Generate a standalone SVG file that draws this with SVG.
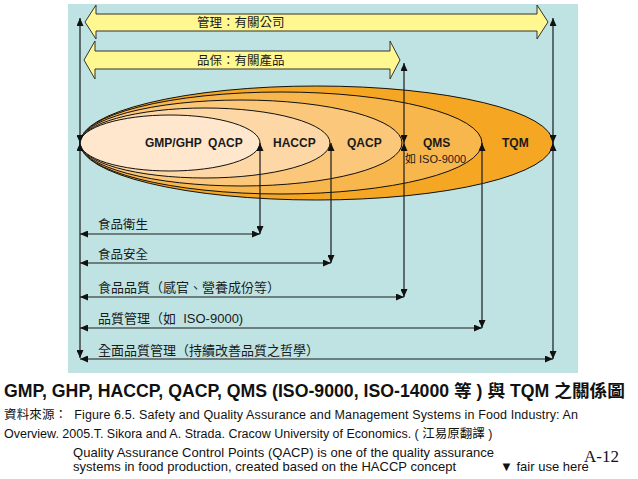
<svg xmlns="http://www.w3.org/2000/svg" width="638" height="479" viewBox="0 0 638 479">
<style>
.cjk{font-family:"Liberation Sans","Noto Sans CJK TC",sans-serif;font-size:12.5px;fill:#1a1a1a;white-space:pre}
.lbl{font-family:"Liberation Sans","Noto Sans CJK TC",sans-serif;font-size:12px;font-weight:bold;fill:#1a1a1a;white-space:pre}
.ell{stroke:#111;stroke-width:1}
.con{stroke:#1a1a1a;stroke-width:1.2;fill:none;marker-start:url(#ah);marker-end:url(#ah)}
.big{fill:#fff78f;stroke:#333;stroke-width:1}
.txt{font-family:"Liberation Sans","Noto Sans CJK TC",sans-serif;fill:#111;white-space:pre}
</style>
<defs>
<marker id="ah" viewBox="0 0 8 7" refX="8" refY="3.5" markerWidth="8" markerHeight="7" markerUnits="userSpaceOnUse" orient="auto-start-reverse">
<path d="M0,0 L8,3.5 L0,7 z" fill="#111"/>
</marker>
</defs>
<rect x="68" y="4" width="510" height="369" fill="#bfe3e3"/>
<g id="arrow-mgmt">
<polygon class="big" points="85,22 96,5 96,14 537,14 537,5 548,22 537,39 537,31 96,31 96,39"/>
<text class="cjk" x="197" y="27">管理：有關公司</text>
</g>
<g id="arrow-qa">
<polygon class="big" points="84,60 95,41 95,51 390,51 390,41 400,60 390,79 390,69 95,69 95,79"/>
<text class="cjk" x="197" y="65">品保：有關產品</text>
</g>
<g id="tqm"><ellipse class="ell" cx="316.5" cy="143" rx="236.5" ry="57" fill="#f5a623"/></g>
<g id="qms"><ellipse class="ell" cx="281" cy="143" rx="201" ry="51" fill="#f8b74c"/></g>
<g id="qacp"><ellipse class="ell" cx="241" cy="143" rx="161" ry="43" fill="#fbc77b"/></g>
<g id="haccp"><ellipse class="ell" cx="205" cy="143" rx="125" ry="35" fill="#fdd8a6"/></g>
<g id="gmp"><ellipse class="ell" cx="170" cy="143" rx="90" ry="28" fill="#fee7cd"/></g>
<g id="labels">
<text class="lbl" x="145" y="147">GMP/GHP  QACP</text>
<text class="lbl" x="273" y="147">HACCP</text>
<text class="lbl" x="347" y="147">QACP</text>
<text class="lbl" x="423" y="147">QMS</text>
<text class="cjk" x="405" y="163" style="font-size:11px">如 ISO-9000</text>
<text class="lbl" x="502" y="147">TQM</text>
</g>
<g id="connectors">
<path class="con" d="M80,18 L80,143"/>
<path class="con" d="M80,143 L80,358"/>
<path class="con" d="M553,18 L553,143"/>
<path class="con" d="M553,143 L553,359"/>
<path class="con" d="M404,63 L404,143"/>
<path class="con" d="M404,143 L404,297"/>
<path class="con" d="M482,143 L482,328"/>
<path class="con" d="M331,143 L331,263"/>
<path class="con" d="M260,143 L260,234"/>
<path class="con" d="M80,234 L260,234"/>
<path class="con" d="M80,263 L331,263"/>
<path class="con" d="M80,297 L404,297"/>
<path class="con" d="M80,328 L482,328"/>
<path class="con" d="M80,359 L553,359"/>
</g>
<g id="scope-labels">
<text class="cjk" x="98" y="229">食品衛生</text>
<text class="cjk" x="98" y="259">食品安全</text>
<text class="cjk" x="98" y="292" style="font-size:13px">食品品質（感官、營養成份等）</text>
<text class="cjk" x="98" y="323" style="font-size:13px">品質管理（如  ISO-9000)</text>
<text class="cjk" x="98" y="355" style="font-size:13px">全面品質管理（持續改善品質之哲學）</text>
</g>
<g id="caption">
<text class="txt" x="4" y="397" style="font-size:17.5px;font-weight:bold" textLength="621" lengthAdjust="spacingAndGlyphs">GMP, GHP, HACCP, QACP, QMS (ISO-9000, ISO-14000 等 ) 與 TQM 之關係圖</text>
<text class="txt" x="4" y="419" style="font-size:12.5px" textLength="574">資料來源：  Figure 6.5. Safety and Quality Assurance and Management Systems in Food Industry: An</text>
<text class="txt" x="4" y="438" style="font-size:12.5px">Overview. 2005.T. Sikora and A. Strada. Cracow University of Economics. ( 江易原翻譯 )</text>
<text class="txt" x="73" y="457" style="font-size:13px" textLength="421">Quality Assurance Control Points (QACP) is one of the quality assurance</text>
<text class="txt" x="73" y="471" style="font-size:13px" textLength="383">systems in food production, created based on the HACCP concept</text>
<text class="txt" x="500" y="471" style="font-size:13px">▼ fair use here</text>
<text x="584" y="462" style="font-family:'Liberation Serif',serif;font-size:17px;fill:#111">A-12</text>
</g>
</svg>
